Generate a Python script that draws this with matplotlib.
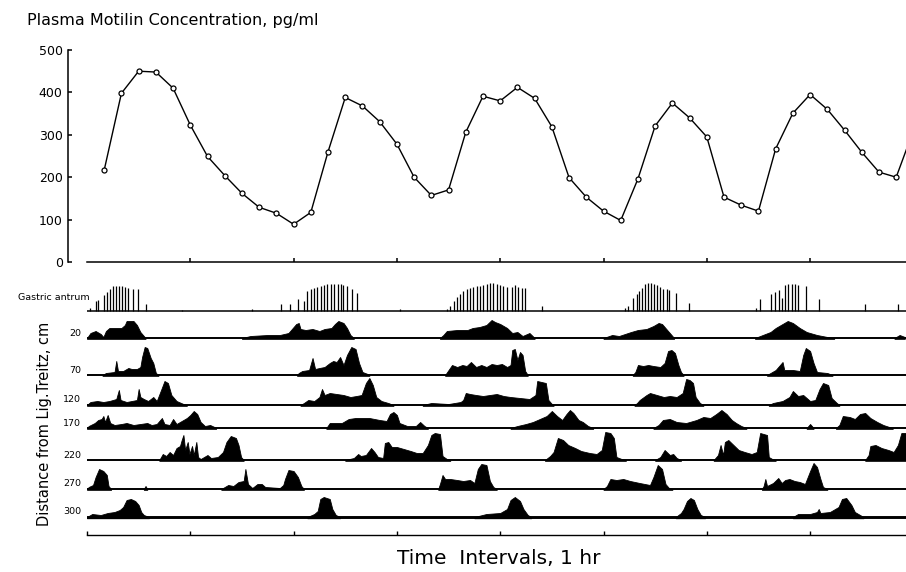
import numpy as np
import matplotlib.pyplot as plt

# Plasma motilin, sampled every 10 min (pg/ml)
sample_min = np.arange(10, 490, 10)
motilin = [217, 398, 450, 448, 410, 323, 249, 204, 162, 129, 115, 89,
           117, 260, 388, 368, 331, 278, 200, 157, 170, 306, 391, 380,
           412, 386, 319, 199, 153, 120, 98, 196, 321, 375, 340, 295,
           153, 134, 120, 267, 351, 395, 360, 311, 259, 212, 200, 310]

# Gastric antrum contractions: time (min) and spike height
antrum_min = [1.7, 5.2, 6.6, 9.9, 11.6, 13.4, 15.1, 16.8, 18.6, 20.3, 22.1, 24.0, 26.7, 29.4, 34.3,
              55.0, 95.6,
              112.7, 117.9, 122.4, 126.1, 128.0, 129.9, 132.0, 133.8, 135.8, 137.5, 139.6, 141.5,
              143.6, 145.6, 147.3, 148.9, 151.2, 153.7, 156.6,
              181.8,
              209.3, 210.8, 213.2, 214.7, 216.6, 218.5, 220.5, 222.4, 224.4, 226.3, 228.3, 230.2,
              232.1, 234.1, 236.0, 238.0, 239.9, 241.8, 243.8, 246.7, 248.6, 250.5, 252.5, 254.4, 264.4,
              312.5, 314.2, 316.9, 319.2, 320.8, 322.5, 324.1, 326.0, 327.6, 329.3, 330.9, 332.8,
              334.7, 336.7, 338.2, 342.1, 349.8,
              388.6, 390.9, 397.1, 399.8, 401.7, 403.5, 405.4, 407.3, 409.3, 411.2, 413.1, 417.4,
              425.1, 451.9, 471.2]
antrum_h = [3, 10, 11, 16, 19, 22, 25, 25, 25, 25, 24, 23, 22, 22, 7,
            1, 2,
            7, 7, 12, 10, 20, 22, 23, 24, 25, 26, 27, 27, 27, 27, 27, 26, 25, 22, 18,
            2,
            2, 5, 10, 14, 17, 20, 22, 23, 24, 25, 25, 26, 27, 28, 28, 27, 26, 25, 24, 24, 26, 24, 23, 23, 5,
            3, 5, 13, 17, 20, 23, 27, 28, 28, 27, 26, 24, 22, 22, 21, 18, 8,
            3, 12, 17, 19, 21, 13, 26, 27, 27, 27, 26, 25, 12, 7, 7]

# Intestinal pressure activity: bursts of (min, height)
ch20 = [
    [(0, 0), (2, 5), (5, 7), (8, 4), (9.5, 1), (11, 7), (13, 10), (20, 10), (22, 13), (23, 17),
     (27, 17), (29, 13), (31, 6), (34, 0)],
    [(90, 0), (95, 2), (105, 3), (112, 3), (117, 5), (119, 9), (121.5, 14), (123, 15), (124, 9),
     (127, 8), (131, 9), (135, 7), (138, 9), (142, 10), (144, 14), (146, 17), (149, 15), (151, 10),
     (153, 3), (155, 0)],
    [(205, 0), (207, 3), (209, 7), (215, 8), (221, 8), (224, 10), (228, 11), (232, 13), (235, 18),
     (237, 16), (240, 14), (244, 10), (247, 5), (250, 6), (253, 2), (257, 5), (260, 0)],
    [(300, 0), (305, 3), (309, 2), (316, 6), (320, 8), (325, 9), (329, 12), (332, 15), (334, 14),
     (337, 8), (340, 2), (341, 0)],
    [(388, 0), (391, 2), (397, 6), (400, 10), (404, 14), (407, 17), (410, 15), (414, 10), (418, 6),
     (424, 3), (430, 1), (434, 0)],
    [(469, 0), (472, 3), (475, 1)],
]
ch70 = [
    [(9, 0), (11, 2), (16, 3), (17, 14), (18, 4), (21, 4), (24, 7), (26, 6), (29, 6), (31, 8),
     (32, 18), (33.5, 28), (35, 27), (37, 17), (38.5, 12), (40, 2), (41.5, 0)],
    [(122, 0), (123, 2), (125, 4), (129, 5), (131, 17), (132.5, 6), (135, 7), (138, 8), (141, 12),
     (143, 14), (145, 13), (147, 18), (149, 10), (151, 20), (153.5, 28), (156, 26), (158, 12),
     (160, 3), (163, 1), (164, 0)],
    [(208, 0), (210, 5), (212, 10), (215, 8), (218, 10), (220.5, 9), (223, 13), (226, 8), (229, 10),
     (232, 8), (235, 11), (238, 10), (241, 11), (244, 8), (246, 10), (247, 25), (248.5, 26),
     (250, 15), (251.5, 23), (253, 20), (254.5, 4), (256, 0)],
    [(317, 0), (318.5, 3), (320, 10), (323, 9), (326, 10), (329, 9), (333, 8), (335.5, 12),
     (337.5, 24), (339.5, 25), (341.5, 22), (343.5, 10), (345, 3), (346.5, 0)],
    [(395, 0), (397, 2), (400, 5), (404, 13), (405, 5), (410, 5), (414, 4), (416, 20), (417.5, 27),
     (420, 24), (422, 12), (424, 3), (430, 2), (433, 0)],
]
ch120 = [
    [(0, 0), (2, 3), (6, 4), (9.5, 3), (13, 4), (17, 6), (18.5, 15), (19.5, 5), (23, 3), (26, 4),
     (29, 5), (30, 16), (31, 8), (33, 6), (35.5, 4), (38.5, 8), (40.5, 4), (43, 15), (45, 24),
     (47, 22), (49, 10), (52, 4), (56, 1), (58, 0)],
    [(124, 0), (126, 2), (128.5, 5), (132, 4), (135, 8), (136.5, 16), (138, 10), (141, 12),
     (145, 11), (149, 10), (153, 8), (156.5, 9), (159.5, 10), (162, 22), (164, 27), (166, 20),
     (168, 8), (171, 4), (175, 2), (178, 0)],
    [(195, 0), (200, 2), (210, 1), (217, 3), (218.5, 5), (220, 12), (222.5, 11), (226, 10),
     (230, 9), (234, 10), (238, 11), (242, 9), (246, 8), (251.5, 7), (257, 6), (260.5, 10),
     (261.5, 24), (264, 23), (266.5, 22), (268, 5), (270, 1), (271, 0)],
    [(318, 0), (319.5, 2), (321, 5), (325, 10), (327, 12), (331, 10), (335, 8), (338.5, 9),
     (342.5, 8), (346, 12), (348, 26), (350, 25), (352, 22), (353.5, 8), (356, 2), (358, 0)],
    [(396, 0), (398.5, 2), (404, 4), (408, 8), (410, 14), (413, 9), (416, 10), (420, 4), (423, 5),
     (425.5, 16), (427.5, 22), (430.5, 20), (432.5, 7), (435.5, 2), (437, 0)],
]
ch170 = [
    [(0, 0), (1, 2), (4.5, 5), (6.5, 8), (8.5, 9), (9.5, 12), (10.5, 6), (12, 13), (13.5, 5),
     (16, 3), (20, 4), (23, 5), (27, 3), (31, 4), (35, 5), (37.5, 3), (40.5, 4), (43.5, 10),
     (45, 4), (48, 3), (50, 9), (52, 4), (55, 7), (58, 10), (60, 13), (62, 17), (64, 14), (66, 6),
     (68.5, 2), (71.5, 3), (74, 1), (75, 0)],
    [(139, 0), (141, 5), (148, 5), (152, 9), (156, 10), (160, 10), (164, 10), (170, 8), (174, 7),
     (176, 14), (178, 16), (180, 13), (181.5, 5), (186, 2), (191, 2), (193.5, 6), (196, 2),
     (198, 0)],
    [(246, 0), (250, 2), (255, 4), (259, 6), (263, 9), (267, 12), (270, 17), (273, 12), (276, 8),
     (278.5, 14), (280.5, 18), (282.5, 15), (285.5, 8), (288, 6), (291, 2), (294, 0)],
    [(329, 0), (332, 3), (334.5, 8), (338.5, 9), (342.5, 6), (348, 5), (354, 8), (358, 11),
     (362, 10), (365.5, 14), (368.5, 18), (371.5, 14), (374.5, 8), (377, 5), (380, 2), (383, 0)],
    [(418, 0), (420, 4), (422, 0)],
    [(435, 0), (437, 3), (439, 12), (443, 11), (446, 9), (449, 14), (452, 15), (455, 10),
     (459, 6), (462.5, 3), (466, 1), (468, 0)],
]
ch220 = [
    [(42, 0), (44, 6), (46, 4), (48, 8), (50, 5), (52, 12), (54, 14), (55, 20), (56, 25), (57, 10),
     (58.5, 18), (59.5, 6), (61, 14), (62, 5), (63.5, 18), (64.5, 3), (66, 1), (70, 5), (72, 2),
     (76, 3), (79, 8), (81, 18), (83.5, 24), (86.5, 22), (88, 15), (89.5, 3), (91, 0)],
    [(150, 0), (155, 2), (157.5, 6), (159, 4), (162, 5), (165, 12), (167, 8), (169, 3), (172, 2),
     (173, 17), (175, 18), (177, 13), (180, 13), (184, 11), (188, 9), (191.5, 7), (195, 7),
     (198, 15), (200, 25), (202, 27), (205, 26), (206.5, 4), (209, 1), (211, 0)],
    [(266, 0), (269, 4), (271, 8), (273.5, 22), (276.5, 20), (279.5, 15), (283.5, 12), (287, 9),
     (292, 7), (296, 6), (299, 10), (301, 28), (304, 27), (306, 22), (307.5, 3), (310.5, 1),
     (313, 0)],
    [(330, 0), (333, 3), (335.5, 10), (338.5, 5), (340.5, 6), (342.5, 2), (345, 0)],
    [(364, 0), (366.5, 5), (368, 15), (369.5, 5), (370.5, 18), (372.5, 20), (375.5, 15),
     (378.5, 10), (382, 8), (386, 6), (389, 8), (391, 27), (393, 26), (395, 25), (396, 3),
     (398, 1), (400, 0)],
    [(452, 0), (454, 5), (455, 14), (458, 15), (461.5, 12), (465.5, 10), (468.5, 8), (471, 15),
     (473, 27), (476, 27)],
]
ch270 = [
    [(0, 0), (1, 2), (3.5, 4), (5, 12), (7, 20), (9.5, 18), (11.5, 14), (12.5, 3), (14, 0)],
    [(33, 0), (34, 3), (35, 0)],
    [(78, 0), (82, 4), (85, 3), (88, 7), (91, 8), (92, 20), (93.5, 5), (96, 1), (99, 5),
     (101.5, 5), (103.5, 2), (112, 1), (114, 4), (115, 10), (117, 19), (120, 18), (122.5, 12),
     (124.5, 3), (126, 0)],
    [(204, 0), (205, 5), (206.5, 14), (208, 10), (211, 10), (215, 9), (218.5, 8), (222.5, 9),
     (225, 6), (227, 20), (229, 25), (232, 24), (234, 8), (236, 2), (238, 0)],
    [(300, 0), (302, 3), (304, 10), (307.5, 9), (311.5, 10), (315.5, 8), (321, 6), (327, 4),
     (329, 12), (331.5, 24), (334, 20), (336, 5), (338, 1), (340, 0)],
    [(392, 0), (393, 3), (394, 10), (395, 3), (398.5, 6), (401.5, 11), (403.5, 6), (405.5, 9),
     (408, 10), (411, 8), (414, 7), (417, 5), (420, 18), (422, 26), (424, 22), (426, 10),
     (427.5, 2), (430, 0)],
]
ch300 = [
    [(0, 0), (3, 3), (8, 2), (12, 4), (16, 5), (19, 7), (21, 10), (23, 17), (25.5, 18), (28, 16),
     (30, 12), (31.5, 5), (33, 2), (36, 0)],
    [(128, 0), (132, 3), (134, 6), (135.5, 18), (137.5, 20), (141, 18), (142.5, 8), (144.5, 2),
     (147, 0)],
    [(225, 0), (232, 3), (240, 4), (244, 8), (246, 17), (248.5, 20), (251.5, 16), (253.5, 8),
     (256, 2), (258, 0)],
    [(342, 0), (345, 4), (346.5, 8), (348.5, 16), (350.5, 19), (352.5, 17), (354.5, 8), (356.5, 2),
     (359, 0)],
    [(410, 0), (413, 3), (420, 3), (424, 5), (425, 8), (426, 4), (431.5, 5), (436.5, 10),
     (438.5, 18), (441, 19), (444, 12), (446, 5), (449, 2), (451, 0)],
]

channels = [("20", ch20), ("70", ch70), ("120", ch120), ("170", ch170),
            ("220", ch220), ("270", ch270), ("300", ch300)]
hour_ticks = [60, 120, 180, 240, 300, 360, 420]

# layout (pixel rows of each trace baseline)
W, H = 906, 572
x_end = (906 - 87) * 60 / 103.3
antrum_base = 311
trace_base = [338, 375, 405, 428, 460, 489, 517]
trace_lw = [1.4, 1.4, 1.4, 1.4, 1.4, 1.4, 2.1]

plt.rcParams['font.family'] = ['DejaVu Sans']
fig = plt.figure(figsize=(W / 100, H / 100), dpi=100)

# ---- motilin panel ----
ax1 = fig.add_axes([87 / W, 1 - 262 / H, (W - 87) / W, 212 / H])
ax1.plot(sample_min, motilin, color='black', lw=1.0, marker='o', ms=3.6,
         mfc='white', mec='black', mew=0.9)
ax1.set_xlim(0, x_end)
ax1.set_ylim(0, 500)
ax1.spines['top'].set_visible(False)
ax1.spines['right'].set_visible(False)
ax1.spines['left'].set_position(('outward', 13.5))
for s in ('left', 'bottom'):
    ax1.spines[s].set_linewidth(1.1)
ax1.set_yticks([0, 100, 200, 300, 400, 500])
ax1.set_xticks(hour_ticks)
ax1.set_xticklabels([])
ax1.tick_params(axis='y', direction='in', length=3, width=1.1, labelsize=9, pad=4)
ax1.tick_params(axis='x', direction='in', length=3, width=1.1)

fig.text(27 / W, 1 - 20 / H, "Plasma Motilin Concentration, pg/ml",
         ha='left', va='center', fontsize=11.5)

# ---- motility traces ----
ax2 = fig.add_axes([87 / W, 1 - 535 / H, (W - 87) / W, 255 / H])
ax2.set_xlim(0, x_end)
ax2.set_ylim(535, 280)
for s in ('top', 'right', 'left'):
    ax2.spines[s].set_visible(False)
ax2.spines['bottom'].set_linewidth(1.0)
ax2.set_yticks([])
ax2.set_xticks([0] + hour_ticks)
ax2.set_xticklabels([])
ax2.tick_params(axis='x', direction='in', length=3, width=1.0)

ax2.axhline(antrum_base, color='black', lw=1.1)
ax2.vlines(antrum_min, antrum_base, antrum_base - np.array(antrum_h), color='black', lw=0.9)
ax2.text(1.5, 297, "Gastric antrum", ha='right', va='center', fontsize=6.8, clip_on=False)

for (name, bursts), base, lw in zip(channels, trace_base, trace_lw):
    ax2.axhline(base, color='black', lw=lw)
    for burst in bursts:
        t = [p[0] for p in burst]
        h = np.array([p[1] for p in burst])
        ax2.fill_between(t, base + lw * 0.6, base - h, color='black', lw=0.6)
    ax2.text(-3.5, base - 5, name, ha='right', va='center', fontsize=6.8, clip_on=False)

fig.text(45 / W, 1 - 424 / H, "Distance from Lig.Treitz, cm", rotation=90,
         ha='center', va='center', fontsize=10.5)
fig.text(499 / W, 1 - 558 / H, "Time  Intervals, 1 hr", ha='center', va='center', fontsize=14.5)

fig.savefig("out.png", dpi=100)
